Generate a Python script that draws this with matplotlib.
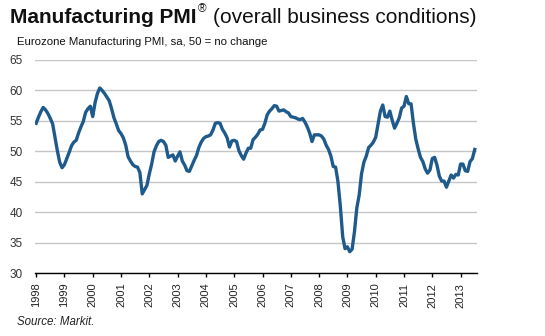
import matplotlib
matplotlib.use("Agg")
import matplotlib.pyplot as plt
import numpy as np

plt.rcParams['font.family'] = ['Liberation Sans', 'DejaVu Sans']

# Eurozone manufacturing PMI, monthly, Jan 1998 - Jul 2013
pmi_1998 = [54.6, 55.6, 56.5, 57.2, 56.8, 56.2, 55.4, 54.5, 52.3, 50.1, 48.2, 47.3]
pmi_1999 = [47.8, 48.8, 49.8, 50.9, 51.5, 51.8, 53.0, 54.0, 54.9, 56.4, 57.0, 57.4]
pmi_2000 = [55.7, 58.0, 59.5, 60.4, 60.0, 59.5, 58.9, 58.3, 57.0, 55.5, 54.5, 53.4]
pmi_2001 = [52.9, 52.2, 51.0, 49.1, 48.4, 47.8, 47.5, 47.4, 46.5, 43.0, 43.7, 44.4]
pmi_2002 = [46.3, 47.9, 49.9, 50.9, 51.6, 51.8, 51.6, 51.0, 49.0, 49.2, 49.4, 48.4]
pmi_2003 = [49.2, 49.9, 48.4, 47.7, 46.8, 46.7, 47.6, 48.5, 49.3, 50.6, 51.5, 52.1]
pmi_2004 = [52.4, 52.5, 52.7, 53.5, 54.6, 54.7, 54.6, 53.6, 53.0, 52.2, 50.7, 51.7]
pmi_2005 = [51.8, 51.6, 50.1, 49.3, 48.7, 49.7, 50.5, 50.5, 51.9, 52.3, 52.8, 53.5]
pmi_2006 = [53.6, 54.6, 56.0, 56.6, 57.0, 57.5, 57.4, 56.6, 56.7, 56.8, 56.5, 56.3]
pmi_2007 = [55.7, 55.6, 55.5, 55.3, 55.2, 55.4, 54.8, 54.0, 53.0, 51.6, 52.7, 52.7]
pmi_2008 = [52.7, 52.5, 52.0, 51.0, 50.3, 49.2, 47.5, 47.4, 45.0, 41.0, 36.0, 34.0]
pmi_2009 = [34.3, 33.5, 33.9, 36.8, 40.7, 42.8, 46.3, 48.2, 49.2, 50.6, 51.0, 51.5]
pmi_2010 = [52.3, 54.5, 56.6, 57.6, 55.7, 55.6, 56.6, 55.1, 53.8, 54.6, 55.5, 57.1]
pmi_2011 = [57.4, 59.0, 57.8, 57.8, 54.6, 52.0, 50.4, 49.0, 48.3, 47.1, 46.4, 46.9]
pmi_2012 = [48.8, 49.0, 47.7, 45.9, 45.1, 45.1, 44.1, 45.1, 46.1, 45.6, 46.2, 46.1]
pmi_2013 = [47.9, 47.9, 46.8, 46.7, 48.3, 48.8, 50.3]

years = list(range(1998, 2014))
y_ticks = [30, 35, 40, 45, 50, 55, 60, 65]

pmi = (pmi_1998 + pmi_1999 + pmi_2000 + pmi_2001 + pmi_2002 + pmi_2003 +
       pmi_2004 + pmi_2005 + pmi_2006 + pmi_2007 + pmi_2008 + pmi_2009 +
       pmi_2010 + pmi_2011 + pmi_2012 + pmi_2013)
t = 1998 + np.arange(len(pmi)) / 12.0

fig = plt.figure(figsize=(5.45, 3.36), dpi=100)
ax = fig.add_axes([0.0642, 0.1875, 0.8105, 0.634])

ax.plot(t, pmi, color='#1f5a8c', lw=2.4, solid_joinstyle='round', zorder=3)

ax.set_xlim(1997.96, 2013.57)
ax.set_ylim(30, 65)
ax.set_yticks(y_ticks)
ax.set_xticks(years)
ax.set_xticklabels([str(y) for y in years], rotation=90, fontsize=8, color='#222222')
ax.tick_params(axis='y', length=0, pad=9, labelsize=8.5, labelcolor='#333333')
ax.tick_params(axis='x', length=3, width=1, pad=4, color='black')
ax.grid(axis='y', color='#c6c6c6', lw=1)
ax.set_axisbelow(True)
for s in ['left', 'right', 'top']:
    ax.spines[s].set_visible(False)
ax.spines['bottom'].set_color('black')
ax.spines['bottom'].set_linewidth(1)

# title in three pieces: bold name, registered mark, plain description
renderer = fig.canvas.get_renderer()
t1 = fig.text(10 / 545, 1 - 23 / 336, 'Manufacturing PMI', fontsize=15,
              fontweight='bold', color='#111111', va='baseline')
bb = t1.get_window_extent(renderer)
t2 = fig.text(bb.x1 / 545 + 0.002, 1 - 12 / 336, '\u00ae', fontsize=8.5,
              color='#111111', va='baseline')
bb2 = t2.get_window_extent(renderer)
fig.text(bb2.x1 / 545 + 0.012, 1 - 23 / 336, '(overall business conditions)',
         fontsize=15, color='#111111', va='baseline')

fig.text(17 / 545, 1 - 42 / 336, 'Eurozone Manufacturing PMI, sa, 50 = no change',
         fontsize=8.2, color='#111111', va='center')
fig.text(17 / 545, 1 - 322 / 336, 'Source: Markit.', fontsize=8.3,
         style='italic', color='#222222', va='center')

fig.savefig('out.png', dpi=100)
